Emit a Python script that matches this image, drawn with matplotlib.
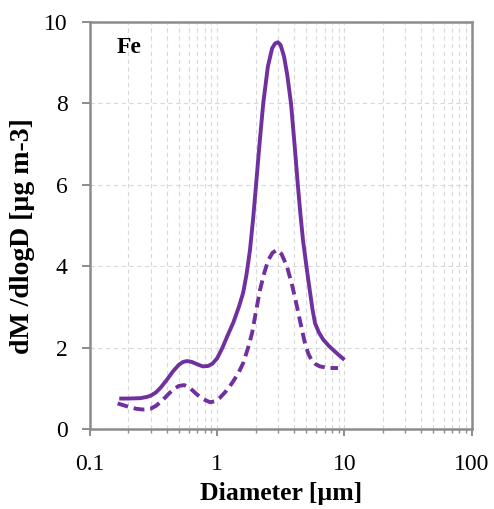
import matplotlib.pyplot as plt
import numpy as np
from matplotlib.ticker import LogLocator, FixedLocator, NullFormatter

# --- dados (diâmetro em µm, dM/dlogD em µg m-3) ---
d_total = [0.17, 0.2, 0.25, 0.28, 0.3, 0.33, 0.36, 0.4, 0.45, 0.5, 0.54, 0.58, 0.63,
           0.7, 0.77, 0.85, 0.92, 1.0, 1.1, 1.2, 1.34, 1.48, 1.6, 1.7, 1.81, 1.92,
           2.02, 2.15, 2.3, 2.5, 2.7, 2.85, 3.0, 3.15, 3.35, 3.55, 3.8, 4.05, 4.3,
           4.5, 4.72, 4.95, 5.15, 5.37, 5.6, 5.87, 6.3, 6.8, 7.5, 8.3, 9.1, 10.0]
m_total = [0.75, 0.75, 0.76, 0.79, 0.82, 0.9, 1.02, 1.2, 1.42, 1.58, 1.65, 1.67, 1.65,
           1.59, 1.54, 1.55, 1.61, 1.74, 2.0, 2.28, 2.62, 3.0, 3.35, 3.8, 4.4, 5.2,
           6.0, 7.0, 8.0, 8.9, 9.35, 9.47, 9.5, 9.43, 9.15, 8.7, 8.0, 7.0, 6.0,
           5.3, 4.64, 4.15, 3.75, 3.35, 2.95, 2.6, 2.37, 2.2, 2.05, 1.92, 1.81, 1.7]

d_dash = [0.165, 0.2, 0.23, 0.26, 0.3, 0.33, 0.37, 0.42, 0.46, 0.5, 0.55, 0.59, 0.64,
          0.7, 0.76, 0.82, 0.88, 0.95, 1.05, 1.15, 1.25, 1.34, 1.47, 1.6, 1.75, 1.88,
          2.02, 2.17, 2.35, 2.52, 2.72, 2.95, 3.2, 3.53, 3.9, 4.24, 4.55, 4.9, 5.2,
          5.5, 5.9, 6.4, 7.5, 8.9]
m_dash = [0.63, 0.55, 0.5, 0.48, 0.5, 0.57, 0.7, 0.88, 0.99, 1.06, 1.08, 1.04, 0.95,
          0.84, 0.76, 0.7, 0.66, 0.68, 0.77, 0.9, 1.04, 1.18, 1.38, 1.62, 2.0, 2.36,
          2.9, 3.42, 3.85, 4.15, 4.33, 4.4, 4.3, 4.0, 3.5, 3.0, 2.55, 2.1, 1.85,
          1.7, 1.6, 1.54, 1.5, 1.5]

xticks = [0.1, 1, 10, 100]
xtick_labels = ["0.1", "1", "10", "100"]
yticks = [0, 2, 4, 6, 8, 10]

purple = "#7030A0"
gray = "#8c8c8c"

plt.rcParams['font.family'] = ['Liberation Serif', 'DejaVu Serif']

fig = plt.figure(figsize=(4.94, 5.09), dpi=100)
ax = fig.add_axes([0.182, 0.157, 0.773, 0.80])

ax.plot(d_total, m_total, color=purple, lw=2.8, solid_capstyle='butt',
        solid_joinstyle='round')
ax.plot(d_dash, m_dash, color=purple, lw=2.8, ls=(0, (2.8, 1.5)), dash_capstyle='butt',
        dash_joinstyle='round')

ax.set_xscale("log")
ax.set_xlim(0.1, 100)
ax.set_ylim(0, 10)
ax.xaxis.set_major_locator(FixedLocator(xticks))
ax.set_xticklabels(xtick_labels)
ax.xaxis.set_minor_locator(LogLocator(base=10, subs=np.arange(2, 10)))
ax.xaxis.set_minor_formatter(NullFormatter())
ax.set_yticks(yticks)

ax.grid(which="both", axis="x", color="#d9d9d9", ls=(0, (4, 3)), lw=0.8)
ax.grid(which="major", axis="y", color="#d9d9d9", ls=(0, (4, 3)), lw=0.8)
ax.set_axisbelow(True)

for s in ax.spines.values():
    s.set_color(gray)
    s.set_linewidth(1.8)

ax.tick_params(axis="y", which="major", direction="out", length=6, width=1.4,
               color=gray, labelsize=17, pad=10)
ax.tick_params(axis="x", which="major", direction="out", length=5, width=1.4,
               color=gray, labelsize=17, pad=13)
ax.tick_params(axis="x", which="minor", direction="out", length=3, width=1.0, color=gray)

ax.set_xlabel("Diameter [µm]", fontsize=18.5, fontweight="bold", labelpad=5)
ax.set_ylabel("dM /dlogD [µg m-3]", fontsize=20, fontweight="bold")
ax.yaxis.set_label_coords(-0.145, 0.475)

ax.text(0.07, 0.962, "Fe", transform=ax.transAxes, fontsize=17, fontweight="bold",
        ha="left", va="top")

fig.savefig("out.png", dpi=100)
